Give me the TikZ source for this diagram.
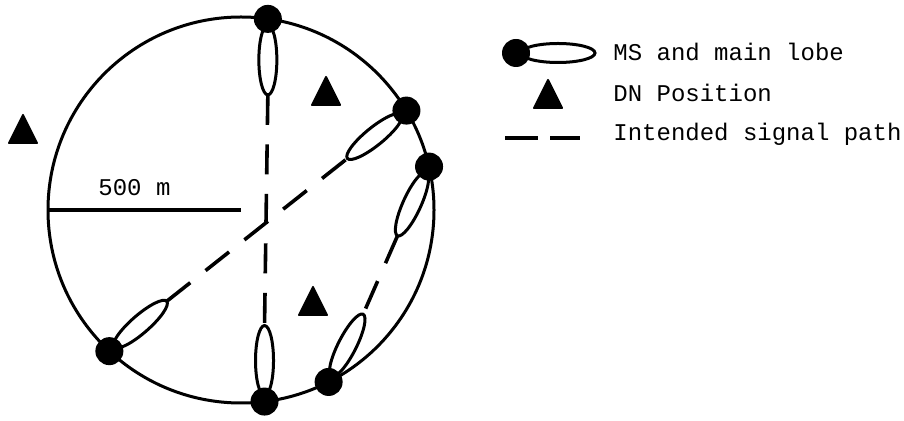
\documentclass[tikz,border=0pt]{standalone}
\usepackage{fontspec}
\setmainfont{Liberation Mono}
\usepackage{tikz}
\usetikzlibrary{calc}

\begin{document}
\begin{tikzpicture}[x=0.5pt,y=0.5pt,font=\fontsize{12}{14}\selectfont,
  cell/.style={draw,circle,line width=1.5pt,minimum size=193pt,inner sep=0pt,outer sep=0pt},
  ms/.style={fill,circle,minimum size=14pt,inner sep=0pt},
  lobe/.style={line width=1.5pt},
  sigpath/.style={line width=1.8pt,dash pattern=on 15pt off 9.75pt},
  dn/.style={fill,line width=1pt,line join=round},
  lbl/.style={anchor=base west,inner sep=0pt}]
\useasboundingbox (0,0) rectangle (904,-421);
% cell boundary and radius
\node[cell] (cell) at (241,-210) {};
\draw[line width=1.75pt] (cell.west) -- (cell.center);
\node[lbl] (radius) at (98,-196) {500 m};
% mobile stations with their main lobes
\foreach \n/\a/\d in {1/82.3/270,2/31.4/219,3/13.5/245.5,4/297.3/63,5/277.4/90,6/227.1/41}
  {\node[ms] (ms\n) at (cell.\a) {};
   \draw[lobe,shift={(ms\n.center)},rotate=\d] (41,0) ellipse (35 and 9);
   \coordinate (tip\n) at ($(ms\n.center)+(\d:76)$);}
\draw[sigpath] (tip1) -- (tip5);
\draw[sigpath] (tip6) -- (tip2);
\draw[sigpath] (tip3) -- (tip4);
% DN positions
\foreach \x/\y in {23/-115,326/-77,313/-287,548/-80}
  {\filldraw[dn] (\x,\y) -- ++(-14,-28) -- ++(28,0) -- cycle;}
% legend
\node[ms] (lgdot) at (516,-53) {};
\draw[lobe,shift={(lgdot.center)}] (42,0) ellipse (37 and 9.5);
\node[lbl] (lgms) at (613,-61) {MS and main lobe};
\node[lbl] (lgdn) at (613,-102) {DN Position};
\coordinate (lgdash) at (505,-138);
\draw[line width=1.8pt,dash pattern=on 16.5pt off 6pt] (lgdash) -- ++(75,0);
\node[lbl] (lgpath) at (613,-141) {Intended signal path};
\end{tikzpicture}
\end{document}
